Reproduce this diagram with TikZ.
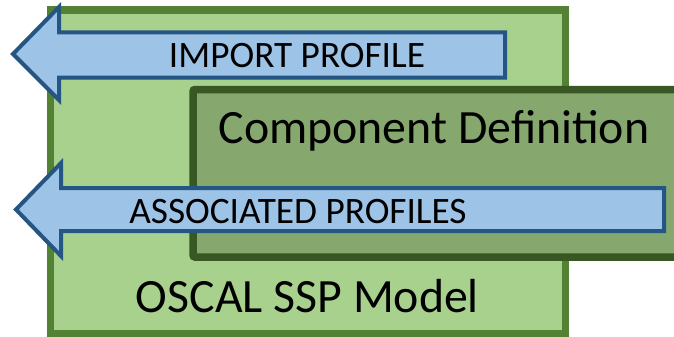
\documentclass[tikz,border=0pt]{standalone}
\usepackage{fontspec}
\setmainfont{Carlito}
\usetikzlibrary{shadows}
\definecolor{sspfill}{HTML}{A9D18E}
\definecolor{sspedge}{HTML}{548235}
\definecolor{cdfill}{HTML}{86A76E}
\definecolor{cdedge}{HTML}{385723}
\definecolor{arrfill}{HTML}{9DC3E6}
\definecolor{arredge}{HTML}{255582}
\begin{document}
\begin{tikzpicture}[x=1pt,y=-1pt,
  sspbox/.style={fill=sspfill,draw=sspedge,line width=7.5pt},
  cdbox/.style={fill=cdfill,draw=cdedge,line width=7.5pt,rounded corners=2pt},
  blockarrow/.style={fill=arrfill,draw=arredge,line width=4pt,line join=miter,
    drop shadow={shadow xshift=1.5pt,shadow yshift=-1.5pt,opacity=0.35,fill=black}},
  bigtext/.style={font=\fontsize{47.8}{52}\selectfont,anchor=base,inner sep=0pt},
  smalltext/.style={font=\fontsize{37.3}{41}\selectfont,anchor=base,inner sep=0pt}]
\useasboundingbox (0,0) rectangle (674,337);

% OSCAL SSP model container
\draw[sspbox] (50.5,10) rectangle (565.5,333.5);
% component definition box, running off the right edge
\draw[cdbox] (193,89.5) rectangle (700,257);

% block arrows
\draw[blockarrow] (13,54) -- (59,7) -- (59,32.5) -- (505,32.5) -- (505,77.5)
  -- (59,77.5) -- (59,100) -- cycle;
\draw[blockarrow] (16,209.5) -- (61,163) -- (61,188) -- (664,188) -- (664,231)
  -- (61,231) -- (61,256) -- cycle;

% labels
\node[smalltext] (imp) at (297,67) {IMPORT PROFILE};
\node[smalltext] (assoc) at (298,223) {ASSOCIATED PROFILES};
\node[bigtext] (cd) at (434,143) {Component Definition};
\node[bigtext] (ssp) at (307.5,312) {OSCAL SSP Model};
\end{tikzpicture}
\end{document}
